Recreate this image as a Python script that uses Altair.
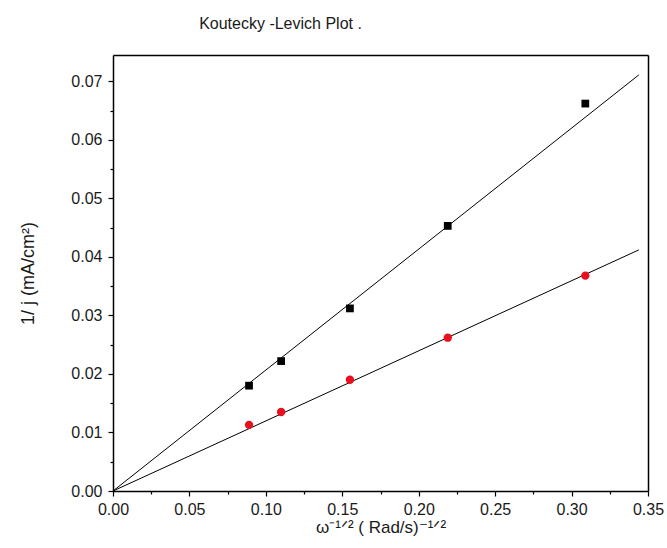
import altair as alt
import pandas as pd

# data
x_vals = [0.089, 0.110, 0.155, 0.219, 0.309]
black_y = [0.0180, 0.0222, 0.0312, 0.0453, 0.0662]
red_y = [0.0113, 0.0135, 0.0190, 0.0262, 0.0368]
fit_x = [0.0, 0.344]
black_fit_y = [0.0, 0.0711]
red_fit_y = [0.0, 0.0412]

x_major = [0.00, 0.05, 0.10, 0.15, 0.20, 0.25, 0.30, 0.35]
x_minor = [0.025, 0.075, 0.125, 0.175, 0.225, 0.275, 0.325]
y_major = [0.00, 0.01, 0.02, 0.03, 0.04, 0.05, 0.06, 0.07]
y_minor = [0.005, 0.015, 0.025, 0.035, 0.045, 0.055, 0.065]

pts = pd.DataFrame({"x": x_vals * 2, "y": black_y + red_y,
                    "s": ["black"] * 5 + ["red"] * 5})
fits = pd.DataFrame({"x": fit_x * 2, "y": black_fit_y + red_fit_y,
                     "s": ["black"] * 2 + ["red"] * 2})

FONT = "Liberation Sans"
TXT = "#1a1a1a"
xs = alt.Scale(domain=[0, 0.35], nice=False, zero=False)
ys = alt.Scale(domain=[0, 0.0745], nice=False, zero=False)

x_title = "ω⁻¹ᐟ² ( Rad/s)⁻¹ᐟ²"
y_title = "1/ j (mA/cm²)"

main_x = alt.Axis(values=x_major, format=".2f", title=x_title, orient="bottom",
                  tickSize=5, tickColor="black", domainColor="black", domainWidth=1.5,
                  tickWidth=1.2, grid=False, labelFont=FONT, labelFontSize=16,
                  labelColor=TXT, labelFlush=False, titleFont=FONT, titleFontSize=17,
                  titleFontWeight="normal", titleColor=TXT, labelPadding=5,
                  titlePadding=2)
main_y = alt.Axis(values=y_major, format=".2f", title=y_title, orient="left",
                  tickSize=5, tickColor="black", domainColor="black", domainWidth=1.5,
                  tickWidth=1.2, grid=False, labelFont=FONT, labelFontSize=16,
                  labelColor=TXT, labelFlush=False, titleFont=FONT, titleFontSize=18,
                  titleFontWeight="normal", titleColor=TXT, labelPadding=6,
                  titlePadding=33)
minor_x = alt.Axis(values=x_minor, labels=False, title=None, orient="bottom",
                   tickSize=3, tickColor="black", tickWidth=1.2, domain=False, grid=False)
minor_y = alt.Axis(values=y_minor, labels=False, title=None, orient="left",
                   tickSize=3, tickColor="black", tickWidth=1.2, domain=False, grid=False)
top_x = alt.Axis(orient="top", labels=False, ticks=False, title=None, grid=False,
                 domainColor="black", domainWidth=1.5)
right_y = alt.Axis(orient="right", labels=False, ticks=False, title=None, grid=False,
                   domainColor="black", domainWidth=1.5)

lines = alt.Chart(fits).mark_line(strokeWidth=1, color="black").encode(
    x=alt.X("x:Q", scale=xs, axis=main_x),
    y=alt.Y("y:Q", scale=ys, axis=main_y),
    detail="s:N",
)

minor = alt.Chart(fits).mark_line(opacity=0).encode(
    x=alt.X("x:Q", scale=xs, axis=minor_x),
    y=alt.Y("y:Q", scale=ys, axis=minor_y),
    detail="s:N",
)

frame = alt.Chart(fits).mark_line(opacity=0).encode(
    x=alt.X("x:Q", scale=xs, axis=top_x),
    y=alt.Y("y:Q", scale=ys, axis=right_y),
    detail="s:N",
)

squares = alt.Chart(pts).transform_filter(alt.datum.s == "black").mark_square(
    size=60, opacity=1, filled=True, color="black").encode(
    x=alt.X("x:Q", scale=xs, axis=None),
    y=alt.Y("y:Q", scale=ys, axis=None),
)
circles = alt.Chart(pts).transform_filter(alt.datum.s == "red").mark_circle(
    size=70, opacity=1, color="#e8101e").encode(
    x=alt.X("x:Q", scale=xs, axis=None),
    y=alt.Y("y:Q", scale=ys, axis=None),
)

chart = alt.layer(lines, minor, frame, squares, circles).resolve_axis(
    x="independent", y="independent"
).properties(
    width=535, height=436,
    title=alt.TitleParams("Koutecky -Levich Plot .", font=FONT, fontSize=16,
                          fontWeight="normal", color=TXT, anchor="middle",
                          offset=23, dx=-100),
    autosize=alt.AutoSizeParams(type="none"),
    padding={"left": 113, "top": 55, "right": 19, "bottom": 57},
).configure_view(stroke=None)

chart.save("out.html", embed_options={"renderer": "svg", "actions": False})
